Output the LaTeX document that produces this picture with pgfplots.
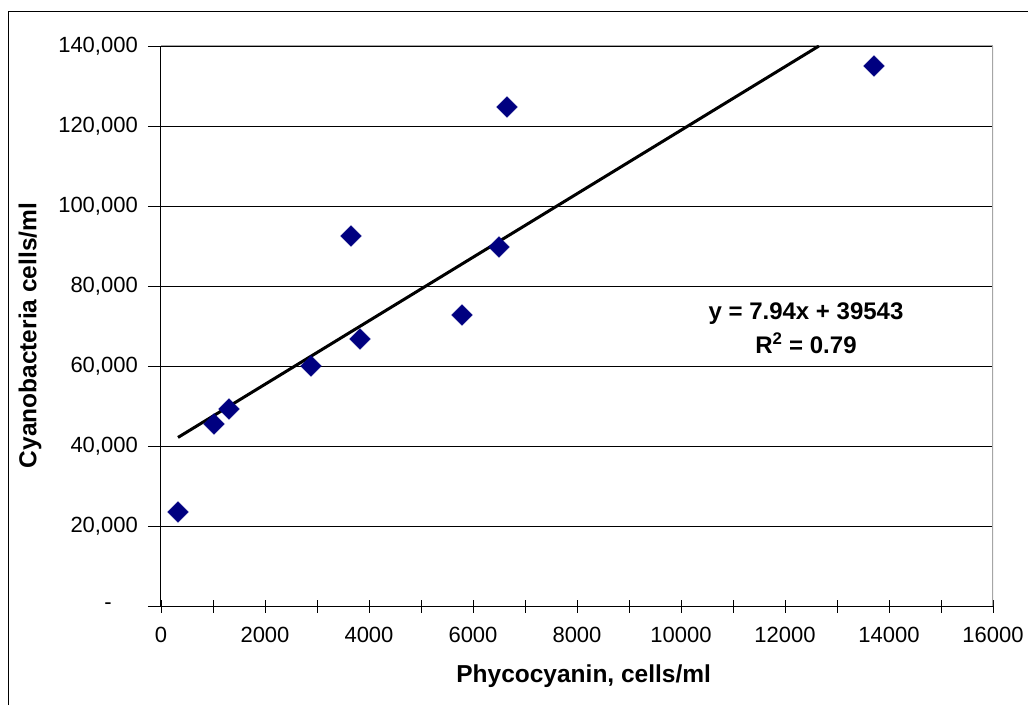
\documentclass[border=0pt]{standalone}
\usepackage{fontspec}
\setmainfont{Liberation Sans}
\usepackage{pgfplots}
\pgfplotsset{compat=1.18}
\definecolor{navy}{RGB}{0,0,128}
\begin{document}
\begin{tikzpicture}[x=1pt,y=1pt]
\begin{axis}[
  at={(0,0)}, anchor=south west,
  scale only axis, width=832pt, height=560pt,
  xmin=0, xmax=16000, ymin=0, ymax=140000,
  axis lines*=left,
  axis line style={black, line width=1pt},
  xtick={0,2000,...,16000},
  minor x tick num=1,
  ytick={0,20000,...,140000},
  yticklabels={{-\kern26pt},{20,000},{40,000},{60,000},{80,000},{100,000},{120,000},{140,000}},
  tick align=center, ytick align=outside,
  major tick length=13pt, minor tick length=13pt,
  tick style={black, line width=0.8pt},
  ymajorgrids, grid style={black, line width=0.8pt},
  /pgf/number format/assume math mode=true,
  /pgf/number format/set thousands separator={},
  scaled ticks=false,
  xticklabel style={font=\fontsize{22}{26}\selectfont, inner sep=0pt, anchor=north, yshift=-14pt},
  yticklabel style={font=\fontsize{22}{26}\selectfont, inner sep=0pt, anchor=east, xshift=-10pt},
  xlabel={Phycocyanin, cells/ml},
  ylabel={Cyanobacteria cells/ml},
  xlabel style={font=\bfseries\fontsize{24.5}{30}\selectfont, at={(axis description cs:0.508,-0.125)}, anchor=center},
  ylabel style={font=\bfseries\fontsize{24.5}{30}\selectfont, at={(axis description cs:-0.1575,0.483)}, anchor=center, rotate=0},
]
\draw[gray!70, line width=1.5pt] (rel axis cs:1,0) -- (rel axis cs:1,1);
\draw[gray!70, line width=1pt] (rel axis cs:0,1) -- (rel axis cs:1,1);
\addplot[black, line width=3pt, no markers] coordinates {(327,42139) (12652,140000)};
\addplot[only marks, mark=square*, mark size=7.4pt, mark options={rotate=45, fill=navy, draw=navy, line width=0.3pt}] coordinates {
(327,23500) (1019,45500) (1308,49250) (2885,60000) (3654,92500)
(3827,66750) (5788,72750) (6500,89750) (6654,124750) (13712,135000)
};
\node[align=center, font=\bfseries\fontsize{24}{34}\selectfont] at (axis cs:12404,69500) {y = 7.94x + 39543\\R\textsuperscript{2} = 0.79};
\end{axis}
\draw[black, line width=1pt] (-152,-99) -- (-152,594) -- (867,594);
\pgfresetboundingbox
\path[use as bounding box] (-161,-99) rectangle (867,606);
\end{tikzpicture}
\end{document}
